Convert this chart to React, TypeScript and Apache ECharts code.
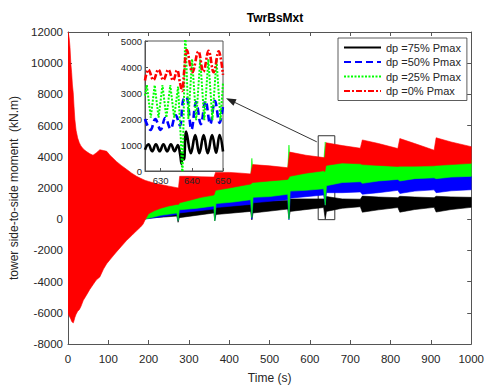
import React, { useEffect, useRef } from 'react';
import * as echarts from 'echarts';

const chartTitle = 'TwrBsMxt';
const xName = 'Time (s)';
const yName = 'tower side-to-side moment  (kN.m)';
const seriesNames = ['dp =75% Pmax', 'dp =50% Pmax', 'dp =25% Pmax', 'dp =0% Pmax'];
const insetXTicks = [630, 640, 650];

// ---- Main plot: envelopes (min / max) of the oscillating signals ----
const redT = [0, 1, 3, 5, 7, 9, 11, 13, 15, 17, 20, 24, 28, 32, 38, 45, 54, 62, 70, 79, 88, 96, 104, 112, 120, 132, 145, 158, 170, 180, 186, 192, 200, 215, 230, 250, 270, 274, 277, 300, 330, 362, 366, 400, 430, 453, 458, 500, 545, 550, 590, 634, 637, 640, 680, 725, 730, 770, 818, 823, 860, 908, 913, 950, 1000];
const redLow = [-6000, -6100, -6200, -6300, -6400, -6550, -6600, -6650, -6500, -6300, -6100, -5900, -5800, -5600, -5200, -4900, -4500, -4200, -3900, -3700, -3200, -2850, -2600, -2350, -2100, -1750, -1370, -1050, -740, -500, -320, 0, 350, 550, 700, 850, 950, 950, 1050, 1200, 1400, 1550, 1850, 2000, 2150, 2250, 2350, 2450, 2550, 2750, 2950, 3100, 3050, 3450, 3600, 3550, 3500, 3450, 3380, 3400, 3400, 3420, 3450, 3500, 3580];
const redHigh = [12000, 11900, 11600, 11000, 10000, 9400, 8600, 8100, 7200, 6400, 5700, 5200, 4900, 4700, 4500, 4350, 4200, 4100, 4250, 4450, 4400, 4350, 4100, 3900, 3700, 3450, 3200, 2950, 2750, 2620, 2550, 2480, 2420, 2300, 2220, 2120, 2020, 2000, 2750, 2750, 2720, 2700, 3000, 3000, 2950, 2900, 3500, 3420, 3300, 4300, 4100, 3950, 3950, 4900, 4720, 4550, 5080, 4850, 4530, 5170, 4850, 4420, 5220, 4950, 4650];

const greenT = [100, 190, 230, 270, 273, 276, 320, 362, 364, 367, 410, 453, 456, 459, 500, 545, 548, 551, 590, 634, 638, 641, 680, 725, 730, 770, 818, 823, 860, 908, 913, 950, 1000];
const greenLow = [-100, 0, 250, 400, -100, 600, 700, 850, -100, 1000, 1100, 1250, 100, 1400, 1450, 1600, 0, 1800, 1850, 1950, 900, 2150, 2350, 2400, 2300, 2450, 2550, 2450, 2600, 2650, 2600, 2700, 2750];
const greenHigh = [500, 700, 1100, 1250, 1250, 1700, 1800, 1950, 1950, 2400, 2500, 2600, 3900, 2900, 3000, 3100, 4750, 3400, 3500, 3600, 4950, 3900, 3800, 3750, 3800, 3750, 3700, 3800, 3750, 3700, 3800, 3800, 3800];

const blueT = [100, 190, 270, 273, 276, 362, 364, 367, 453, 456, 459, 545, 548, 551, 634, 638, 641, 680, 725, 730, 770, 818, 823, 860, 908, 913, 950, 1000];
const blueLow = [-100, 0, 300, -100, 400, 650, -80, 750, 950, 0, 1050, 1250, -50, 1350, 1550, 900, 1700, 1700, 1750, 1600, 1700, 1850, 1650, 1800, 1880, 1700, 1820, 1890];
const blueHigh = [400, 500, 800, 800, 1000, 1150, 1150, 1350, 1550, 1600, 1750, 1900, 1950, 2050, 2250, 2400, 2650, 2450, 2550, 2600, 2600, 2650, 2700, 2700, 2700, 2750, 2750, 2750];

const blackT = [100, 190, 270, 273, 276, 362, 364, 367, 453, 456, 459, 545, 548, 551, 634, 638, 641, 680, 725, 730, 770, 818, 823, 860, 908, 913, 950, 1000];
const blackLow = [-100, 50, 200, -200, 100, 400, -100, 300, 500, -50, 400, 650, 50, 500, 750, 0, 500, 700, 800, 450, 600, 750, 450, 620, 760, 460, 620, 760];
const blackHigh = [300, 350, 550, 550, 700, 850, 850, 950, 1050, 1050, 1150, 1200, 1200, 1300, 1300, 1400, 1450, 1300, 1280, 1480, 1420, 1380, 1470, 1420, 1380, 1470, 1430, 1400];

// ---- Inset (zoom 625-650 s): peaks and troughs ----
const insBlackT = [625, 626.1, 627.3, 628.5, 629.7, 630.9, 632.1, 633.3, 634.5, 635.5, 636.3, 636.7, 637.1, 637.5, 638.2, 639.7, 641.1, 642.4, 643.8, 645.1, 646.5, 647.8, 648.9, 650];
const insBlackV = [820, 1030, 760, 1030, 760, 1030, 760, 1030, 760, 1000, 620, 280, 700, 450, 1520, 680, 1380, 680, 1380, 680, 1380, 700, 1380, 750];

const insBlueT = [625, 626.8, 628.3, 630.0, 631.5, 633.2, 634.8, 636.2, 637.2, 638.2, 639.9, 641.4, 642.9, 644.4, 645.9, 647.4, 648.9, 650];
const insBlueV = [2000, 1580, 2000, 1580, 2050, 1620, 2150, 1750, 2700, 2850, 1600, 2650, 1800, 2700, 1800, 2700, 1850, 2500];

const insGreenT = [625, 625.6, 626.85, 628.1, 629.35, 630.6, 631.85, 633.1, 634.35, 635.6, 636.5, 637.0, 637.9, 638.9, 640.1, 641.4, 642.7, 644.0, 645.3, 646.6, 647.9, 649.2, 650];
const insGreenV = [2900, 3300, 2050, 3300, 2050, 3300, 2050, 3300, 2050, 3250, 1200, -300, 5400, 2000, 4300, 1950, 4300, 1950, 4300, 1950, 4300, 1950, 3400];

const insRedT = [625, 626.1, 627.7, 629.3, 630.9, 632.5, 634.0, 635.3, 636.2, 636.9, 637.6, 638.4, 640.2, 642.1, 643.7, 645.4, 647.0, 648.6, 650];
const insRedV = [3480, 3900, 3500, 3900, 3500, 3900, 3480, 3880, 3400, 3080, 3900, 4650, 3800, 4600, 3820, 4620, 3800, 4600, 3700];

const FONT = 'Liberation Sans, Arial, Helvetica, sans-serif';
const AX = '#262626';

function bandSeries(key: string, t: number[], low: number[], high: number[], color: string) {
  const data = t.map((x, i) => [x, low[i], high[i]]);
  return {
    name: key + '-band', type: 'custom', xAxisIndex: 0, yAxisIndex: 0,
    coordinateSystem: 'cartesian2d', silent: true, clip: true,
    encode: { x: 0, y: [1, 2] },
    data,
    z: 2,
    renderItem: (params: any, api: any) => {
      if (params.dataIndex !== 0) return null;
      const upper = data.map((d) => api.coord([d[0], d[2]]));
      const lower = data.map((d) => api.coord([d[0], d[1]])).reverse();
      return {
        type: 'polygon',
        shape: { points: upper.concat(lower) },
        style: { fill: color, stroke: color, lineWidth: 0.6 },
      };
    },
  };
}

function insetLine(name: string, t: number[], v: number[], color: string, lineStyle: any, smooth: any) {
  return {
    name, type: 'line', xAxisIndex: 2, yAxisIndex: 2, symbol: 'none', showSymbol: false, smooth,
    itemStyle: { color },
    lineStyle: { color, ...lineStyle },
    data: t.map((x, i) => [x, v[i]]),
    z: 12, clip: true, silent: true,
  };
}

export default function App() {
  const ref = useRef<HTMLDivElement>(null);
  useEffect(() => {
    if (!ref.current) return;
    const chart = echarts.init(ref.current, undefined, { renderer: 'svg' });
    const plain = (v: number) => String(v);
    const label = { color: AX, fontSize: 11.5, fontFamily: FONT, formatter: plain };
    const option: any = {
      animation: false,
      backgroundColor: '#fff',
      title: {
        text: chartTitle, left: 270, top: 7, textAlign: 'center',
        textStyle: { fontSize: 12, fontWeight: 'bold', color: '#000', fontFamily: FONT },
      },
      legend: {
        orient: 'vertical', left: 338, top: 38,
        data: seriesNames,
        itemWidth: 37, itemHeight: 12, itemGap: 3.5,
        itemStyle: { opacity: 0, borderWidth: 0 },
        padding: [4, 6, 4, 5],
        backgroundColor: '#fff', borderColor: '#333', borderWidth: 0.8,
        textStyle: { fontSize: 11, color: AX, fontFamily: FONT },
        z: 20,
      },
      grid: [
        { left: 68, right: 14, top: 32, bottom: 41, show: false },
        { left: 145, width: 78, top: 41, height: 130, show: true, backgroundColor: '#fff', borderColor: '#555', borderWidth: 1, z: 10 },
      ],
      xAxis: [
        {
          gridIndex: 0, type: 'value', min: 0, max: 1000, interval: 100, position: 'bottom',
          axisLine: { onZero: false, lineStyle: { color: '#555', width: 1 } },
          axisTick: { inside: true, length: 4, lineStyle: { color: '#555' } },
          axisLabel: { ...label, margin: 9 },
          splitLine: { show: false },
          name: xName, nameLocation: 'middle', nameGap: 28,
          nameTextStyle: { fontSize: 12, color: AX, fontFamily: FONT },
        },
        {
          gridIndex: 0, type: 'value', min: 0, max: 1000, interval: 100, position: 'top',
          axisLine: { onZero: false, lineStyle: { color: '#555', width: 1 } },
          axisTick: { inside: true, length: 4, lineStyle: { color: '#555' } },
          axisLabel: { show: false }, splitLine: { show: false },
        },
        {
          gridIndex: 1, type: 'value', min: 625, max: 650, position: 'bottom',
          axisLine: { onZero: false, lineStyle: { color: '#555', width: 1 } },
          axisTick: { inside: true, length: 3, customValues: insetXTicks, lineStyle: { color: '#555' } },
          axisLabel: { color: AX, fontSize: 9.5, fontFamily: FONT, margin: 4, customValues: insetXTicks, formatter: plain },
          splitLine: { show: false }, z: 11,
        },
      ],
      yAxis: [
        {
          gridIndex: 0, type: 'value', min: -8000, max: 12000, interval: 2000, position: 'left',
          axisLine: { show: true, onZero: false, lineStyle: { color: '#555', width: 1 } },
          axisTick: { show: true, inside: true, length: 4, lineStyle: { color: '#555' } },
          axisLabel: { ...label, margin: 5 },
          splitLine: { show: false },
          name: yName, nameLocation: 'middle', nameGap: 44, nameRotate: 90,
          nameTextStyle: { fontSize: 12, color: AX, fontFamily: FONT },
        },
        {
          gridIndex: 0, type: 'value', min: -8000, max: 12000, interval: 2000, position: 'right',
          axisLine: { show: true, onZero: false, lineStyle: { color: '#555', width: 1 } },
          axisTick: { show: true, inside: true, length: 4, lineStyle: { color: '#555' } },
          axisLabel: { show: false }, splitLine: { show: false },
        },
        {
          gridIndex: 1, type: 'value', min: 0, max: 5000, interval: 1000, position: 'left',
          axisLine: { show: true, onZero: false, lineStyle: { color: '#555', width: 1 } },
          axisTick: { show: true, inside: true, length: 3, lineStyle: { color: '#555' } },
          axisLabel: { color: AX, fontSize: 9.5, fontFamily: FONT, margin: 3, formatter: plain },
          splitLine: { show: false }, z: 11,
        },
      ],
      series: [
        bandSeries('black', blackT, blackLow, blackHigh, '#000000'),
        bandSeries('blue', blueT, blueLow, blueHigh, '#0000ff'),
        bandSeries('green', greenT, greenLow, greenHigh, '#00ff00'),
        bandSeries('red', redT, redLow, redHigh, '#ff0000'),
        {
          name: 'zoom-box', type: 'line', xAxisIndex: 0, yAxisIndex: 0, data: [], z: 6, silent: true,
          markArea: {
            silent: true,
            itemStyle: { color: 'rgba(0,0,0,0)', borderColor: '#333', borderWidth: 1 },
            data: [[{ coord: [620.5, -30] }, { coord: [661.7, 5350] }]],
          },
        },
        insetLine(seriesNames[0], insBlackT, insBlackV, '#000000', { width: 2.6, type: 'solid' }, 0.4),
        insetLine(seriesNames[1], insBlueT, insBlueV, '#0000ff', { width: 2.6, type: [7, 4] }, 0.4),
        insetLine(seriesNames[2], insGreenT, insGreenV, '#00ff00', { width: 2, type: [2, 1.5] }, false),
        insetLine(seriesNames[3], insRedT, insRedV, '#ff0000', { width: 2.6, type: [6, 2, 2, 2] }, 0.4),
      ],
    };
    chart.setOption(option);

    const s = chart.convertToPixel({ xAxisIndex: 0, yAxisIndex: 0 }, [617, 4960]) as number[];
    const e0 = chart.convertToPixel({ xAxisIndex: 2, yAxisIndex: 2 }, [650, 2800]) as number[];
    const e = [e0[0] + 3, e0[1]];
    const dx = s[0] - e[0], dy = s[1] - e[1];
    const L = Math.sqrt(dx * dx + dy * dy) || 1;
    const ux = dx / L, uy = dy / L;
    const nx = -uy, ny = ux;
    const hl = 10, hw = 3.6;
    const bx = e[0] + ux * hl, by = e[1] + uy * hl;
    chart.setOption({
      graphic: [
        { type: 'line', z: 30, shape: { x1: s[0], y1: s[1], x2: bx, y2: by }, style: { stroke: '#333', lineWidth: 1 } },
        {
          type: 'polygon', z: 30,
          shape: { points: [[e[0], e[1]], [bx + nx * hw, by + ny * hw], [bx - nx * hw, by - ny * hw]] },
          style: { fill: '#222' },
        },
      ],
    });

    return () => chart.dispose();
  }, []);
  return <div ref={ref} style={{ position: 'fixed', left: 0, top: 0, width: 487, height: 389 }} />;
}
